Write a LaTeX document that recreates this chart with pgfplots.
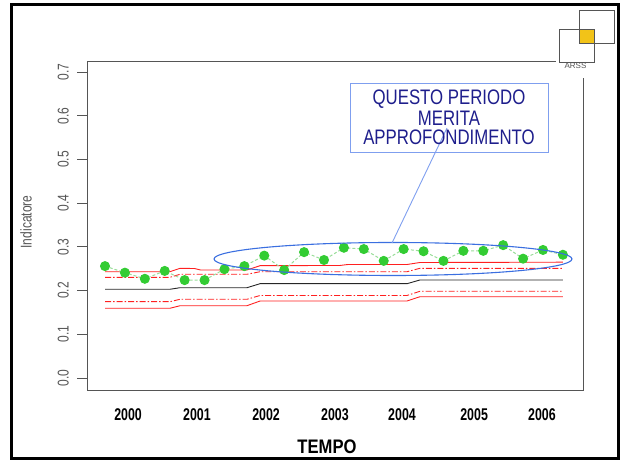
\documentclass[border=0pt]{standalone}
\usepackage{pgfplots}
\pgfplotsset{compat=1.18}
\usepackage{fontspec}
\setmainfont{Liberation Sans}
\usepackage{graphicx}
\definecolor{axgray}{HTML}{555555}
\definecolor{dotgreen}{HTML}{33CC33}
\definecolor{linegreen}{HTML}{99DD99}
\definecolor{ellblue}{HTML}{3B6FE0}
\definecolor{boxblue}{HTML}{7F9FEF}
\definecolor{txtblue}{HTML}{1E1E8C}
\definecolor{gold}{HTML}{F2C318}
\definecolor{limred}{HTML}{FF2020}
\begin{document}
\begin{tikzpicture}[x=1bp,y=1bp]
\useasboundingbox (0,0) rectangle (623,461);
\begin{axis}[at={(87bp,71bp)}, anchor=south west, width=496bp, height=329bp, scale only axis,
  xmin=0.096, xmax=25.01, ymin=-0.02746, ymax=0.7254,
  axis line style={axgray, line width=0.8bp},
  tick align=outside, major tick length=10bp,
  ytick pos=left, xtick pos=bottom,
  xtick={2.16,5.62,9.09,12.55,15.92,19.54,22.95},
  xticklabels={\scalebox{1}[1.37]{2000},\scalebox{1}[1.37]{2001},\scalebox{1}[1.37]{2002},\scalebox{1}[1.37]{2003},\scalebox{1}[1.37]{2004},\scalebox{1}[1.37]{2005},\scalebox{1}[1.37]{2006}},
  ytick={0,0.1,0.2,0.3,0.4,0.5,0.6,0.7},
  yticklabels={\scalebox{1}[1.3]{0.0},\scalebox{1}[1.3]{0.1},\scalebox{1}[1.3]{0.2},\scalebox{1}[1.3]{0.3},\scalebox{1}[1.3]{0.4},\scalebox{1}[1.3]{0.5},\scalebox{1}[1.3]{0.6},\scalebox{1}[1.3]{0.7}},
  xtick style={draw=none}, ytick style={axgray, line width=0.8bp},
  yticklabel style={rotate=90, anchor=south, inner sep=0pt, text=axgray, font=\fontsize{12bp}{14bp}\selectfont},
  yticklabel shift=8bp,
  xticklabel style={anchor=north, inner sep=0pt, font=\bfseries\fontsize{12.4bp}{14bp}\selectfont},
  xticklabel shift=8bp,
]
% limits
\addplot[limred, line width=0.9bp] coordinates {(1,0.2432)(4.26,0.2432)(4.77,0.2510)(5.5,0.2505)(5.8,0.2471)(8.13,0.2471)(8.79,0.2570)(12.8,0.2575)(13.2,0.2597)(16.17,0.2597)(16.82,0.2643)(24,0.2650)};
\addplot[limred, line width=0.9bp, dash pattern=on 6bp off 2bp on 1.5bp off 2bp] coordinates {(1,0.2304)(4.26,0.2304)(4.77,0.2373)(8.13,0.2373)(8.79,0.2432)(16.17,0.2432)(16.82,0.2510)(24,0.2510)};
\addplot[black!85, line width=0.9bp] coordinates {(1,0.2030)(4.26,0.2030)(4.77,0.2066)(8.13,0.2066)(8.79,0.2158)(16.17,0.2158)(16.82,0.2243)(24,0.2243)};
\addplot[limred, line width=0.9bp, dash pattern=on 6bp off 2bp on 1.5bp off 2bp] coordinates {(1,0.1746)(4.26,0.1746)(4.77,0.1801)(8.13,0.1801)(8.79,0.1888)(16.17,0.1888)(16.82,0.1984)(24,0.1984)};
\addplot[limred, line width=0.9bp] coordinates {(1,0.1595)(4.26,0.1595)(4.77,0.1654)(8.13,0.1654)(8.79,0.1762)(16.17,0.1762)(16.82,0.1860)(24,0.1860)};
% observed
\addplot[linegreen, line width=1bp, dash pattern=on 3bp off 2bp, mark=*, mark size=4.5bp,
  mark options={solid, draw=dotgreen, fill=dotgreen}] coordinates {
(1,0.256)(2,0.241)(3,0.227)(4,0.245)(5,0.224)(6,0.224)(7,0.249)(8,0.256)
(9,0.280)(10,0.247)(11,0.288)(12,0.270)(13,0.298)(14,0.295)(15,0.268)(16,0.295)
(17,0.290)(18,0.268)(19,0.291)(20,0.291)(21,0.304)(22,0.273)(23,0.293)(24,0.282)};
\end{axis}
% annotation
\draw[ellblue, line width=1.1bp] (393,202) ellipse [x radius=179, y radius=16.5];
\draw[boxblue, line width=0.9bp] (447,333) -- (392,218);
\draw[boxblue, line width=0.9bp] (350,378) rectangle (548,309);
\node[txtblue, font=\fontsize{16.8bp}{19bp}\selectfont, inner sep=0pt] at (449,362) {\scalebox{1}[1.25]{QUESTO PERIODO}};
\node[txtblue, font=\fontsize{16.8bp}{19bp}\selectfont, inner sep=0pt] at (449,342.7) {\scalebox{1}[1.25]{MERITA}};
\node[txtblue, font=\fontsize{16.8bp}{19bp}\selectfont, inner sep=0pt] at (449,323.3) {\scalebox{1}[1.25]{APPROFONDIMENTO}};
% axis titles
\node[rotate=90, text=axgray, font=\fontsize{12bp}{14bp}\selectfont, inner sep=0pt] at (26,239) {\scalebox{1}[1.3]{Indicatore}};
\node[font=\bfseries\fontsize{16.6bp}{19bp}\selectfont, inner sep=0pt] at (327,14) {\scalebox{1}[1.18]{TEMPO}};
% logo
\fill[white] (556,383) rectangle (617.5,454.5);
\fill[gold] (579,432) rectangle (594,418);
\draw[axgray, line width=0.9bp] (579,451) rectangle (614,418);
\draw[axgray, line width=0.9bp] (559,432) rectangle (594,399);
\node[axgray, font=\fontsize{8bp}{9bp}\selectfont, inner sep=0pt] at (575.5,395) {ARSS};
% frame
\draw[black, line width=2.6bp] (11.5,456.3) rectangle (618.7,2.3);
\end{tikzpicture}
\end{document}
